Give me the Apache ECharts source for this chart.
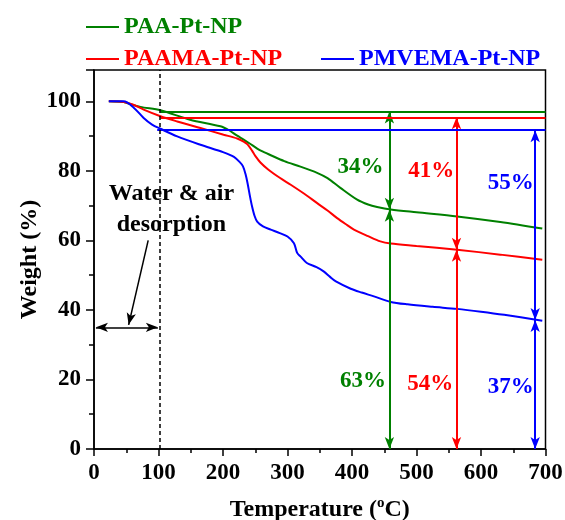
<!DOCTYPE html>
<html>
<head>
<meta charset="utf-8">
<script src="https://cdn.jsdelivr.net/npm/echarts@6/dist/echarts.min.js"></script>
<style>
  html, body { margin: 0; padding: 0; background: #fff; }
  #chart { width: 565px; height: 520px; }
</style>
</head>
<body>
<div id="chart"></div>
<script>
// TGA curves: [temperature (°C), weight (%)]
const paaCurve = [
  [23,100],[46,99.8],[51,99.5],[72,98.4],[103,97.4],[149,94.7],[196,92.8],[210,91.6],
  [222,90.1],[232,89.0],[242,87.8],[253,86.4],[262,85.5],[275,84.4],[295,82.8],[320,81.2],
  [345,79.5],[362,77.9],[382,75.1],[408,71.7],[425,70.3],[439,69.6],[460,68.9],[500,68.1],
  [563,66.9],[630,65.3],[695,63.4]
];
const paamaCurve = [
  [23,100],[46,99.8],[61,99.0],[77,97.6],[103,95.7],[129,94.2],[165,92.3],[201,90.4],
  [222,89.3],[232,88.4],[238,87.6],[245,85.8],[250,84.3],[258,82.4],[270,80.4],[288,78.0],
  [305,76.0],[326,73.4],[346,70.7],[362,68.6],[377,66.4],[390,64.7],[403,63.1],[425,61.2],
  [444,59.7],[460,59.1],[500,58.4],[563,57.3],[630,55.9],[695,54.4]
];
const pmvemaCurve = [
  [23,100],[46,100],[62,98.1],[77,95.2],[90,93.3],[103,92.1],[129,89.9],[165,87.5],
  [201,85.3],[217,84.0],[226,82.5],[231,81.3],[235,79.0],[238,76.5],[242,72.5],[245,69.8],
  [249,67.0],[253,65.4],[262,64.0],[274,63.1],[288,62.1],[300,61.1],[310,59.2],[315,56.4],
  [320,55.4],[330,53.5],[345,52.3],[356,51.1],[366,49.5],[375,48.2],[398,46.1],[415,45.0],
  [434,43.9],[460,42.3],[486,41.6],[525,40.9],[563,40.3],[600,39.5],[636,38.6],[695,36.9]
];

const seriesNames = ['PAA-Pt-NP', 'PAAMA-Pt-NP', 'PMVEMA-Pt-NP'];
const seriesColors = ['#008000', '#ff0000', '#0000ff'];

// Mass-loss annotation per sample: initial plateau, arrow position, residue level at the arrow
const plateauLevel = [97.1, 95.4, 91.7];
const plateauStart = [103, 103, 98];
const arrowTemp = [458, 562, 684];
const breakLevel = [68.8, 57.3, 37.1];

// Percentage labels: [x, y, text]
const lossLabels = [[413, 81, '34%'], [523, 80, '41%'], [646, 76.6, '55%']];
const residueLabels = [[417, 19.4, '63%'], [521.5, 18.7, '54%'], [646, 17.8, '37%']];

// Desorption region marker
const desorptionEdge = 102;
const desorptionSpan = [3, 99, 35];
const desorptionText = [120, 68.8, 'Water & air\ndesorption'];
const pointerFrom = [84, 60];
const pointerTo = [53.7, 35.7];

const xTicks = { min: 0, max: 700, step: 100 };
const yTicks = { min: 0, max: 109, step: 20 };

const FONT = '"Liberation Serif", "Times New Roman", serif';
const ARROW = [7, 12];

function arrowMarks(i) {
  const c = seriesColors[i];
  const x = arrowTemp[i];
  return {
    silent: true,
    animation: false,
    symbol: ['arrow', 'arrow'],
    symbolSize: ARROW,
    label: { show: false },
    emphasis: { disabled: true },
    lineStyle: { color: c, width: 2, type: 'solid' },
    data: [
      [{ coord: [plateauStart[i], plateauLevel[i]], symbol: 'none' },
       { coord: [xTicks.max, plateauLevel[i]], symbol: 'none' }],
      [{ coord: [x, plateauLevel[i]] }, { coord: [x, breakLevel[i]] }],
      [{ coord: [x, breakLevel[i]] }, { coord: [x, 0] }]
    ]
  };
}

const curves = [paaCurve, paamaCurve, pmvemaCurve].map((d, i) => ({
  name: seriesNames[i],
  type: 'line',
  data: d,
  symbol: 'none',
  smooth: 0.3,
  lineStyle: { color: seriesColors[i], width: 2 },
  itemStyle: { color: seriesColors[i] },
  z: 3,
  markLine: arrowMarks(i)
}));

const pctSeries = {
  name: 'pct',
  type: 'scatter',
  symbolSize: 0,
  silent: true,
  z: 5,
  itemStyle: { opacity: 1 },
  data: lossLabels.concat(residueLabels).map((p, k) => ({
    value: p,
    label: { color: seriesColors[k % 3] }
  })),
  label: {
    show: true,
    position: 'inside',
    formatter: p => p.value[2],
    fontFamily: FONT,
    fontSize: 23,
    fontWeight: 'bold',
    opacity: 1
  }
};

const noteSeries = {
  name: 'note',
  type: 'scatter',
  symbolSize: 0,
  silent: true,
  z: 5,
  itemStyle: { opacity: 1 },
  data: [desorptionText],
  label: {
    show: true,
    position: 'inside',
    formatter: p => p.value[2],
    fontFamily: FONT,
    fontSize: 24,
    fontWeight: 'bold',
    lineHeight: 31,
    color: '#000',
    opacity: 1
  },
  markLine: {
    silent: true,
    animation: false,
    symbol: ['none', 'none'],
    symbolSize: ARROW,
    label: { show: false },
    emphasis: { disabled: true },
    lineStyle: { color: '#000', width: 1.5, type: 'solid' },
    data: [
      { xAxis: desorptionEdge, lineStyle: { color: '#000', width: 1.5, type: [4, 3] } },
      [{ coord: [desorptionSpan[0], desorptionSpan[2]], symbol: 'arrow' },
       { coord: [desorptionSpan[1], desorptionSpan[2]], symbol: 'arrow' }],
      [{ coord: pointerFrom, symbol: 'none' },
       { coord: pointerTo, symbol: 'arrow',
         lineStyle: { color: '#000', width: 1.5, type: 'solid', curveness: 0.08 } }]
    ]
  }
};

const axisLabelStyle = {
  fontFamily: FONT, fontSize: 23, fontWeight: 'bold', color: '#000'
};
const axisLineStyle = { show: true, lineStyle: { color: '#000', width: 1.5 } };

const option = {
  animation: false,
  backgroundColor: '#fff',
  grid: {
    left: 94, right: 19.5, top: 70, bottom: 71,
    containLabel: false,
    outerBoundsMode: 'none',
    show: true, borderColor: '#000', borderWidth: 1.5, backgroundColor: 'transparent'
  },
  legend: [
    {
      orient: 'vertical', left: 86, top: 15, padding: 0,
      icon: 'rect', itemWidth: 33, itemHeight: 2, itemGap: 8,
      selectedMode: false,
      textStyle: { fontFamily: FONT, fontSize: 24, fontWeight: 'bold' },
      data: [
        { name: seriesNames[0], textStyle: { color: seriesColors[0] } },
        { name: seriesNames[1], textStyle: { color: seriesColors[1] } }
      ]
    },
    {
      orient: 'horizontal', left: 321, top: 47, padding: 0,
      icon: 'rect', itemWidth: 33, itemHeight: 2,
      selectedMode: false,
      textStyle: { fontFamily: FONT, fontSize: 24, fontWeight: 'bold' },
      data: [{ name: seriesNames[2], textStyle: { color: seriesColors[2] } }]
    }
  ],
  xAxis: {
    type: 'value',
    min: xTicks.min, max: xTicks.max, interval: xTicks.step,
    axisLine: axisLineStyle,
    axisTick: { show: true, length: 7, lineStyle: { color: '#000', width: 1.5 } },
    minorTick: { show: true, splitNumber: 2, length: 4, lineStyle: { color: '#000', width: 1.5 } },
    splitLine: { show: false },
    axisLabel: Object.assign({ margin: 13 }, axisLabelStyle),
    name: '{a|Temperature (}{s|o}{a|C)}',
    nameLocation: 'middle',
    nameGap: 47,
    nameMoveOverlap: false,
    nameTextStyle: {
      rich: {
        a: { fontFamily: FONT, fontSize: 24, fontWeight: 'bold', color: '#000', lineHeight: 28 },
        s: { fontFamily: FONT, fontSize: 15, fontWeight: 'bold', color: '#000',
             verticalAlign: 'top', lineHeight: 14, padding: [0, 0, 6, 0] }
      }
    }
  },
  yAxis: {
    type: 'value',
    min: yTicks.min, max: yTicks.max, interval: yTicks.step,
    axisLine: axisLineStyle,
    axisTick: { show: true, length: 8, lineStyle: { color: '#000', width: 1.5 } },
    minorTick: { show: true, splitNumber: 2, length: 5, lineStyle: { color: '#000', width: 1.5 } },
    splitLine: { show: false },
    axisLabel: Object.assign({
      margin: 13,
      formatter: v => (v % yTicks.step === 0 ? String(v) : '')
    }, axisLabelStyle),
    name: 'Weight (%)',
    nameLocation: 'middle',
    nameGap: 52,
    nameMoveOverlap: false,
    nameTextStyle: { fontFamily: FONT, fontSize: 24, fontWeight: 'bold', color: '#000' }
  },
  series: curves.concat([pctSeries, noteSeries])
};

const chart = echarts.init(document.getElementById('chart'), null, { renderer: 'canvas' });
chart.setOption(option);
</script>
</body>
</html>
